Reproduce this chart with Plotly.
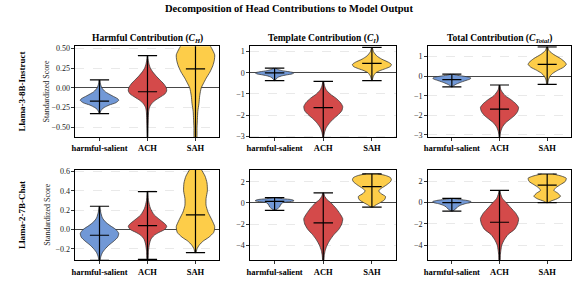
import plotly.graph_objects as go

# ---------------- data ----------------
categories = ["harmful-salient", "ACH", "SAH"]
models = ["Llama-3-8B-Instruct", "Llama-2-7B-Chat"]
panel_titles = [
    "Harmful Contribution (<i>C<sub>H</sub></i>)",
    "Template Contribution (<i>C<sub>I</sub></i>)",
    "Total Contribution (<i>C<sub>Total</sub></i>)",
]

# density profiles: (value, relative half-width) per category
l3_harmful_profile = [
    [(0.10, 0.02), (0.05, 0.05), (0.0, 0.12), (-0.05, 0.3), (-0.10, 0.65), (-0.14, 0.95), (-0.16, 1.0),
     (-0.19, 0.85), (-0.22, 0.5), (-0.25, 0.25), (-0.28, 0.1), (-0.31, 0.04), (-0.33, 0.01)],
    [(0.41, 0.01), (0.35, 0.04), (0.30, 0.08), (0.25, 0.15), (0.20, 0.28), (0.15, 0.45), (0.10, 0.65),
     (0.05, 0.85), (0.0, 0.98), (-0.04, 1.0), (-0.08, 0.9), (-0.12, 0.65), (-0.16, 0.4), (-0.20, 0.22),
     (-0.25, 0.1), (-0.30, 0.06), (-0.40, 0.04), (-0.50, 0.03), (-0.60, 0.02), (-0.70, 0.01)],
    [(0.68, 0.05), (0.62, 0.4), (0.56, 0.7), (0.50, 0.85), (0.42, 1.0), (0.35, 0.98), (0.28, 0.9),
     (0.20, 0.75), (0.12, 0.55), (0.05, 0.4), (0.0, 0.3), (-0.10, 0.22), (-0.20, 0.18), (-0.30, 0.12),
     (-0.40, 0.1), (-0.50, 0.08), (-0.70, 0.05)],
]
l3_harmful_mean = [-0.17, -0.05, 0.24]
l3_harmful_min = [-0.33, -0.70, -0.70]
l3_harmful_max = [0.10, 0.41, 0.68]

l3_template_profile = [
    [(0.22, 0.05), (0.15, 0.2), (0.10, 0.4), (0.05, 0.75), (0.0, 1.0), (-0.05, 0.9), (-0.10, 0.6),
     (-0.15, 0.35), (-0.20, 0.2), (-0.28, 0.08), (-0.37, 0.02)],
    [(-0.4, 0.02), (-0.6, 0.06), (-0.8, 0.15), (-1.0, 0.35), (-1.2, 0.65), (-1.4, 0.88), (-1.6, 1.0),
     (-1.8, 0.95), (-2.0, 0.75), (-2.2, 0.5), (-2.4, 0.3), (-2.6, 0.15), (-2.8, 0.07), (-3.0, 0.03), (-3.2, 0.01)],
    [(1.2, 0.02), (1.0, 0.08), (0.8, 0.25), (0.65, 0.5), (0.5, 0.85), (0.4, 1.0), (0.3, 0.95),
     (0.2, 0.7), (0.1, 0.4), (0.0, 0.2), (-0.15, 0.08), (-0.3, 0.03), (-0.37, 0.01)],
]
l3_template_mean = [0.0, -1.65, 0.45]
l3_template_min = [-0.37, -3.2, -0.37]
l3_template_max = [0.22, -0.40, 1.20]

l3_total_profile = [
    [(0.10, 0.05), (0.05, 0.25), (0.0, 0.6), (-0.05, 0.9), (-0.10, 1.0), (-0.15, 0.95), (-0.20, 0.8),
     (-0.30, 0.5), (-0.40, 0.25), (-0.48, 0.1), (-0.55, 0.02)],
    [(-0.45, 0.02), (-0.7, 0.07), (-1.0, 0.3), (-1.2, 0.6), (-1.4, 0.85), (-1.6, 1.0), (-1.8, 0.95),
     (-2.0, 0.8), (-2.2, 0.55), (-2.4, 0.3), (-2.6, 0.15), (-2.8, 0.07), (-3.0, 0.03), (-3.3, 0.01)],
    [(1.5, 0.02), (1.3, 0.1), (1.1, 0.35), (0.9, 0.7), (0.7, 0.95), (0.6, 1.0), (0.45, 0.85),
     (0.3, 0.55), (0.15, 0.3), (0.0, 0.15), (-0.2, 0.06), (-0.42, 0.02)],
]
l3_total_mean = [-0.18, -1.68, 0.60]
l3_total_min = [-0.55, -3.3, -0.42]
l3_total_max = [0.10, -0.45, 1.50]

l2_harmful_profile = [
    [(0.24, 0.02), (0.18, 0.06), (0.12, 0.15), (0.08, 0.3), (0.04, 0.55), (0.0, 0.85), (-0.04, 1.0),
     (-0.08, 0.95), (-0.12, 0.75), (-0.16, 0.5), (-0.20, 0.3), (-0.24, 0.15), (-0.28, 0.07), (-0.32, 0.02)],
    [(0.39, 0.02), (0.30, 0.05), (0.22, 0.15), (0.15, 0.35), (0.10, 0.65), (0.05, 0.95), (0.03, 1.0),
     (0.0, 0.9), (-0.03, 0.6), (-0.06, 0.35), (-0.10, 0.18), (-0.15, 0.1), (-0.22, 0.05), (-0.31, 0.02)],
    [(0.75, 0.02), (0.68, 0.1), (0.62, 0.3), (0.55, 0.5), (0.48, 0.6), (0.40, 0.62), (0.32, 0.55),
     (0.25, 0.55), (0.18, 0.65), (0.10, 0.85), (0.03, 1.0), (-0.03, 0.95), (-0.08, 0.7), (-0.12, 0.4),
     (-0.16, 0.2), (-0.20, 0.08), (-0.24, 0.02)],
]
l2_harmful_mean = [-0.06, 0.04, 0.15]
l2_harmful_min = [-0.32, -0.31, -0.24]
l2_harmful_max = [0.24, 0.39, 0.75]

l2_template_profile = [
    [(0.5, 0.05), (0.4, 0.4), (0.3, 0.9), (0.2, 1.0), (0.1, 0.7), (0.0, 0.4), (-0.2, 0.3),
     (-0.4, 0.25), (-0.55, 0.15), (-0.7, 0.02)],
    [(0.95, 0.02), (0.6, 0.08), (0.3, 0.2), (0.0, 0.4), (-0.5, 0.65), (-1.0, 0.85), (-1.5, 1.0),
     (-2.0, 0.95), (-2.5, 0.8), (-3.0, 0.55), (-3.5, 0.35), (-4.0, 0.2), (-4.5, 0.1), (-5.0, 0.05), (-5.6, 0.02)],
    [(2.75, 0.3), (2.6, 0.7), (2.4, 0.95), (2.2, 1.0), (2.0, 0.95), (1.7, 0.75), (1.4, 0.5),
     (1.15, 0.35), (0.9, 0.45), (0.6, 0.7), (0.3, 0.65), (0.0, 0.4), (-0.2, 0.2), (-0.4, 0.05)],
]
l2_template_mean = [0.15, -1.9, 1.55]
l2_template_min = [-0.7, -5.6, -0.4]
l2_template_max = [0.5, 0.95, 2.75]

l2_total_profile = [
    [(0.4, 0.05), (0.3, 0.4), (0.2, 0.8), (0.1, 1.0), (0.0, 0.95), (-0.1, 0.7), (-0.25, 0.45),
     (-0.4, 0.3), (-0.6, 0.2), (-0.8, 0.03)],
    [(1.15, 0.02), (0.8, 0.06), (0.4, 0.15), (0.0, 0.35), (-0.5, 0.6), (-1.0, 0.85), (-1.5, 1.0),
     (-2.0, 0.95), (-2.5, 0.8), (-3.0, 0.45), (-3.5, 0.25), (-4.0, 0.12), (-4.5, 0.07), (-5.0, 0.04), (-5.6, 0.02)],
    [(2.7, 0.3), (2.5, 0.75), (2.3, 1.0), (2.0, 0.95), (1.7, 0.7), (1.4, 0.45), (1.15, 0.35),
     (0.9, 0.55), (0.6, 0.7), (0.35, 0.5), (0.15, 0.2), (0.0, 0.05)],
]
l2_total_mean = [0.0, -1.85, 1.65]
l2_total_min = [-0.8, -5.6, 0.0]
l2_total_max = [0.4, 1.15, 2.7]

panels = [
    [(l3_harmful_profile, l3_harmful_mean, l3_harmful_min, l3_harmful_max),
     (l3_template_profile, l3_template_mean, l3_template_min, l3_template_max),
     (l3_total_profile, l3_total_mean, l3_total_min, l3_total_max)],
    [(l2_harmful_profile, l2_harmful_mean, l2_harmful_min, l2_harmful_max),
     (l2_template_profile, l2_template_mean, l2_template_min, l2_template_max),
     (l2_total_profile, l2_total_mean, l2_total_min, l2_total_max)],
]

y_ranges = [[(-0.63, 0.53), (-3.05, 1.26), (-3.12, 1.53)],
            [(-0.32, 0.617), (-5.45, 3.14), (-5.45, 3.1)]]
y_ticks = [[[-0.5, -0.25, 0, 0.25, 0.5], [-3, -2, -1, 0, 1], [-3, -2, -1, 0, 1]],
           [[-0.2, 0, 0.2, 0.4, 0.6], [-4, -2, 0, 2], [-4, -2, 0, 2]]]
y_fmt = [[".2f", "d", "d"], [".1f", "d", "d"]]

# ---------------- styling ----------------
fills = ["#7198d6", "#d44a4a", "#fdcd49"]
SERIF = "Liberation Serif, Times New Roman, serif"
HALF = 0.4
CAP = 0.2

x_domains = [(72 / 573, 217 / 573), (248 / 573, 395 / 573), (427 / 573, 571 / 573)]
y_domains = [(1 - 137.7 / 281, 1 - 44.3 / 281), (1 - 264 / 281, 1 - 171 / 281)]

fig = go.Figure()
layout = dict(
    width=573, height=281, margin=dict(l=0, r=0, t=0, b=0),
    paper_bgcolor="white", plot_bgcolor="white", showlegend=False,
    font=dict(family=SERIF, size=8, color="black"),
)

annotations = []
k = 0
for r in range(2):
    for c in range(3):
        k += 1
        xa = "x" if k == 1 else f"x{k}"
        ya = "y" if k == 1 else f"y{k}"
        profiles, means, mins, maxs = panels[r][c]
        for i in range(3):
            prof = profiles[i]
            ys = [p[0] for p in prof]
            ws = [p[1] for p in prof]
            xs = [i + w * HALF for w in ws] + [i - w * HALF for w in reversed(ws)]
            yy = ys + list(reversed(ys))
            fig.add_trace(go.Scatter(
                x=xs, y=yy, fill="toself", fillcolor=fills[i], mode="lines",
                line=dict(color="#3a3a3a", width=0.8, shape="spline", smoothing=0.6),
                xaxis=xa, yaxis=ya, hoverinfo="skip"))
            lx = [i, i, None, i - CAP, i + CAP, None, i - CAP, i + CAP, None, i - CAP, i + CAP]
            ly = [mins[i], maxs[i], None, mins[i], mins[i], None, maxs[i], maxs[i], None, means[i], means[i]]
            fig.add_trace(go.Scatter(
                x=lx, y=ly, mode="lines", line=dict(color="black", width=1.2),
                xaxis=xa, yaxis=ya, hoverinfo="skip"))

        xkey = "xaxis" if k == 1 else f"xaxis{k}"
        ykey = "yaxis" if k == 1 else f"yaxis{k}"
        layout[xkey] = dict(
            domain=x_domains[c], anchor=ya, range=[-0.5, 2.5],
            tickvals=[0, 1, 2], ticktext=[f"<b>{t}</b>" for t in categories],
            ticks="outside", ticklen=3, tickwidth=0.8, tickcolor="black",
            tickfont=dict(family=SERIF, size=8.5, color="black"),
            showline=True, linecolor="black", linewidth=1, mirror=True,
            showgrid=False, zeroline=False, fixedrange=True)
        layout[ykey] = dict(
            domain=y_domains[r], anchor=xa, range=list(y_ranges[r][c]),
            tickvals=y_ticks[r][c], tickformat=y_fmt[r][c],
            ticks="outside", ticklen=3, tickwidth=0.8, tickcolor="black",
            tickfont=dict(family=SERIF, size=8, color="#222222"),
            showline=True, linecolor="black", linewidth=1, mirror=True,
            showgrid=True, gridcolor="#d4d4d4", gridwidth=0.5, griddash="dash",
            zeroline=True, zerolinecolor="#333333", zerolinewidth=0.9, fixedrange=True)

# titles
annotations.append(dict(text="<b>Decomposition of Head Contributions to Model Output</b>",
                        x=0.5, y=1 - 6 / 281, xref="paper", yref="paper",
                        xanchor="center", yanchor="middle", showarrow=False,
                        font=dict(family=SERIF, size=10.5, color="black")))
for c in range(3):
    annotations.append(dict(text=f"<b>{panel_titles[c]}</b>",
                            x=(x_domains[c][0] + x_domains[c][1]) / 2, y=1 - 44.5 / 281,
                            xref="paper", yref="paper", xanchor="center", yanchor="bottom",
                            showarrow=False, font=dict(family=SERIF, size=9.5, color="black")))
for r in range(2):
    yc = (y_domains[r][0] + y_domains[r][1]) / 2
    annotations.append(dict(text=f"<b>{models[r]}</b>", x=18 / 573, y=yc, xref="paper", yref="paper",
                            xanchor="center", yanchor="middle", textangle=-90, showarrow=False,
                            font=dict(family=SERIF, size=9, color="black")))
    annotations.append(dict(text="Standardized Score", x=43 / 573, y=yc, xref="paper", yref="paper",
                            xanchor="center", yanchor="middle", textangle=-90, showarrow=False,
                            font=dict(family=SERIF, size=8, color="#222222")))

layout["annotations"] = annotations
fig.update_layout(**layout)
fig.write_html("out.html", config={"displayModeBar": False, "staticPlot": True},
               post_script="document.body.style.margin='0';document.body.style.overflow='hidden';")
